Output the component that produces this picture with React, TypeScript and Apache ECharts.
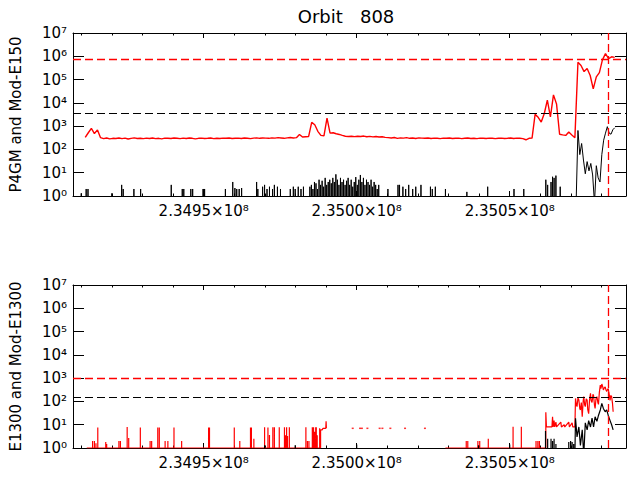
import React, { useEffect, useRef } from 'react';
import * as echarts from 'echarts';

// times are stored as seconds after T_REF
const T_REF = 234900000;
const X_MIN = 234907300;
const X_MAX = 235088000;

const MAJOR_TICKS = [234950000, 235000000, 235050000];
const MINOR_TICKS = [
  234910000, 234920000, 234930000, 234940000, 234950000, 234960000,
  234970000, 234980000, 234990000, 235000000, 235010000, 235020000,
  235030000, 235040000, 235050000, 235060000, 235070000, 235080000,
];
const Y_LABELS = ['10⁰', '10¹', '10²', '10³', '10⁴', '10⁵', '10⁶', '10⁷'];

const TITLE = 'Orbit   808';
const Y_NAMES = ['P4GM and Mod-E150', 'E1300 and Mod-E1300'];

// upper panel, red trace: uniform steps
const RED_TOP_T0 = 11300;
const RED_TOP_STEP = 1000;
const RED_TOP = [
  330, 520, 800, 480, 690, 320, 290, 310, 285, 300,
  295, 310, 290, 305, 280, 300, 315, 295, 300, 290,
  305, 295, 310, 290, 300, 285, 305, 300, 295, 310,
  300, 290, 305, 295, 310, 300, 285, 300, 305, 295,
  300, 310, 290, 300, 295, 305, 300, 310, 295, 300,
  305, 295, 310, 300, 290, 305, 315, 300, 310, 305,
  300, 315, 305, 320, 310, 300, 315, 325, 310, 320,
  440, 340, 350, 360, 1450, 1150, 600, 400, 380, 2200,
  500, 520, 470, 440, 400, 370, 360, 370, 355, 370,
  360, 375, 350, 365, 345, 360, 340, 350, 330, 320,
  310, 325, 300, 315, 305, 320, 300, 310, 295, 315,
  305, 300, 310, 295, 305, 300, 290, 305, 300, 310,
  295, 300, 305, 290, 300, 310, 295, 300, 290, 305,
  300, 295, 305, 300, 290, 300, 305, 295, 300, 310,
  295, 305, 300, 290, 260, 300, 305, 3200, 2400, 1500,
  3500, 13000, 2500, 22000, 9000, 450, 420, 400, 560, 420,
  320, 550000, 400000, 220000, 300000, 150000, 40000, 130000, 200000, 700000,
  1300000, 800000, 950000, 900000,
];

// upper panel, black trace: isolated counts [time, value]
const BLK_TOP_SPIKES_A = [
  [10000, 1.3], [11600, 2], [12200, 2], [20000, 1.3], [23200, 3], [23700, 2],
  [27200, 2], [29400, 2], [39400, 3], [43000, 2], [43500, 2], [45800, 2],
  [46400, 2], [49800, 2], [50050, 2], [50300, 2], [57100, 2], [59500, 4],
  [60200, 2.2], [60800, 2], [61600, 2], [62400, 2.2], [67300, 4], [67700, 2],
  [69260, 2.5], [69900, 3], [70700, 2], [71500, 2.5], [72500, 2], [73100, 3],
  [74100, 2.5], [75100, 2], [78300, 2], [79300, 2.5], [79900, 2], [80900, 2.5],
  [81800, 2], [82600, 2.5],
];
const BLK_TOP_DENSE_T0 = 84700;
const BLK_TOP_DENSE_STEP = 500;
const BLK_TOP_DENSE = [
  2.5, 3, 2, 4, 3.5, 2, 5, 3, 4.5, 2.5, 6, 3, 4, 5, 3.5, 6, 4, 8.5, 5, 3,
  6, 4, 5, 3, 4.5, 6, 3, 5, 2.5, 4, 6.5, 3, 5, 8, 4, 6, 3, 5, 4, 3,
  5, 2.5, 4, 3, 2, 3,
];
const BLK_TOP_SPIKES_B = [
  [110200, 2], [113500, 3], [114000, 3], [115100, 2.5], [116000, 2], [117000, 3],
  [118300, 2], [119300, 2.5], [121000, 3], [124100, 2.5], [124700, 2], [125700, 2.5],
  [129000, 2], [136000, 1.5], [142800, 2.5], [151400, 2], [154600, 2], [161800, 5],
  [162400, 3], [163500, 4], [164000, 6.7], [164500, 6], [165100, 7.5], [166500, 2.5],
];
const BLK_TOP_TAIL_T0 = 171700;
const BLK_TOP_TAIL_STEP = 600;
const BLK_TOP_TAIL = [
  0.5, 650, 60, 180, 35, 9, 30, 12, 25, 8, 0.5, 20, 6, 4, 60, 250, 500, 950, 500, 450, 700, 850,
];

// lower panel, red trace
const RED_BOT_START = 11800;
const RED_BOT_SPIKES_A = [
  [13700, 2], [14300, 2], [14800, 1.6], [15400, 7.5], [18000, 1.8], [18300, 1.5],
  [22300, 2], [22800, 2], [25000, 8], [25500, 2.7], [29300, 7.5], [32500, 2],
  [33000, 2], [35000, 7.5], [35500, 7.5], [37400, 2], [38300, 2], [40300, 7.5],
  [42800, 2], [51600, 7.5], [51900, 7.5], [60000, 7.5], [61800, 2], [65300, 7.5],
  [65600, 7.5], [66400, 2.5], [69900, 7.7], [71000, 7.5], [71500, 3.6], [72600, 7.7],
  [73100, 7.7], [74700, 7.7], [76400, 7.7], [76700, 3.5], [77100, 7.7], [77400, 3.3],
  [78000, 7.7], [83400, 7.7], [83900, 2], [84400, 2], [85500, 7.7], [85900, 7.7],
  [86200, 5], [86600, 7.7], [86800, 7.7], [87100, 3.5], [87900, 7],
];
const RED_BOT_END_A = [
  [88200, 1], [88200, 6], [88700, 6], [89000, 7], [89900, 7], [90000, 14], [90100, 7],
];
const RED_BOT_DOTS = [98700, 101100, 101700, 103500, 107500, 108400, 111000, 115800, 122300];
const RED_BOT_DOT_VALUE = 7;
const RED_BOT_START_B = 129000;
const RED_BOT_SPIKES_B = [
  [135800, 2], [136300, 2], [139600, 2], [140200, 2], [143000, 2.5], [151100, 8.2],
  [153800, 8.2], [158600, 2], [159200, 2], [159700, 2],
];
const RED_BOT_TAIL = [
  [161800, 1], [161800, 34], [162000, 8], [163800, 8], [164000, 22], [164200, 8],
  [164500, 15], [164700, 8], [165100, 13], [165300, 8], [166700, 13], [166900, 8],
  [167800, 10], [168000, 8], [169300, 13], [169500, 8], [170400, 12], [170600, 8],
  [171300, 8], [171500, 135], [171800, 70], [172000, 60], [172300, 140], [172600, 115],
  [172900, 50], [173100, 43], [173400, 90], [173700, 22], [174000, 100], [174200, 160],
  [174500, 70], [174700, 60], [175000, 130], [175300, 115], [175500, 45], [175800, 30],
  [176100, 120], [176400, 225], [176600, 110], [176900, 90], [177200, 200], [177400, 180],
  [177700, 70], [177900, 50], [178200, 130], [178500, 160], [178800, 90], [179000, 75],
  [179300, 250], [179600, 500], [179800, 350], [180100, 560], [180400, 420], [180600, 310],
  [180900, 380], [181200, 420], [181500, 300], [181700, 270], [182000, 330], [182200, 360],
  [182500, 200], [182800, 110], [183000, 180], [183300, 160], [183600, 80], [183800, 36],
];

// lower panel, black trace
const BLK_BOT_SPIKES = [
  [69900, 1.3], [79900, 1.3], [100000, 1.4], [139800, 1.3], [150000, 1.4], [161700, 5.4],
  [162400, 2.5], [163500, 2.5], [164000, 2], [164500, 2.5], [165100, 1.5], [169300, 1.8],
  [169900, 2], [170400, 1.8], [170900, 1.5],
];
const BLK_BOT_TAIL = [
  [171300, 0.5], [171500, 19], [172000, 3], [172600, 8], [173100, 1.3], [173700, 6],
  [174200, 0.5], [174700, 12], [175300, 6], [175800, 15], [176400, 8], [176900, 19],
  [177400, 8], [177900, 22], [178500, 14], [179000, 25], [179600, 43], [180100, 83],
  [180600, 50], [181200, 36], [181700, 43], [182200, 25], [182800, 15], [183300, 10],
  [183800, 6],
];

// reference levels
const TOP_RED_LEVEL = 740000;
const TOP_BLACK_LEVEL = 3550;
const BOT_RED_LEVEL = 1000;
const BOT_BLACK_LEVEL = 150;
const MARK_TIME = 182300;

const FONT = 'DejaVu Sans';
const RED = '#ff0000';
const BLACK = '#000000';

const toPoints = (pairs: number[][]) => pairs.map(([t, v]) => [T_REF + t, v]);
const spikes = (pairs: number[][], base: number) =>
  pairs.flatMap(([t, h]) => [
    [T_REF + t, base],
    [T_REF + t, h],
    [T_REF + t, base],
  ]);
const uniform = (t0: number, step: number, values: number[]) =>
  values.map((v, i) => [t0 + i * step, v]);

const App: React.FC = () => {
  const chartRef = useRef<HTMLDivElement>(null);

  useEffect(() => {
    if (!chartRef.current) return;
    const chart = echarts.init(chartRef.current, null, { renderer: 'svg' });

    const redTop = toPoints(uniform(RED_TOP_T0, RED_TOP_STEP, RED_TOP));
    const blackTop = [
      ...spikes(BLK_TOP_SPIKES_A, 0.5),
      ...spikes(uniform(BLK_TOP_DENSE_T0, BLK_TOP_DENSE_STEP, BLK_TOP_DENSE), 0.5),
      ...spikes(BLK_TOP_SPIKES_B, 0.5),
      ...toPoints(uniform(BLK_TOP_TAIL_T0, BLK_TOP_TAIL_STEP, BLK_TOP_TAIL)),
    ];
    const redBotA = [
      [T_REF + RED_BOT_START, 1],
      ...spikes(RED_BOT_SPIKES_A, 1),
      ...toPoints(RED_BOT_END_A),
    ];
    const redBotB = [
      [T_REF + RED_BOT_START_B, 1],
      ...spikes(RED_BOT_SPIKES_B, 1),
      ...toPoints(RED_BOT_TAIL),
    ];
    const redBotDots = RED_BOT_DOTS.map((t) => [T_REF + t, RED_BOT_DOT_VALUE]);
    const blackBot = [...spikes(BLK_BOT_SPIKES, 0.5), ...toPoints(BLK_BOT_TAIL)];

    const xAxes = (gridIndex: number) => {
      const base = {
        type: 'value',
        gridIndex,
        min: X_MIN,
        max: X_MAX,
        splitLine: { show: false },
      };
      const major = (position: string, labels: boolean) => ({
        ...base,
        position,
        axisLine: { show: true, onZero: false, lineStyle: { color: BLACK, width: 1 } },
        axisTick: {
          show: true,
          inside: true,
          length: 5,
          customValues: MAJOR_TICKS,
          lineStyle: { color: BLACK },
        },
        axisLabel: {
          show: labels,
          customValues: MAJOR_TICKS,
          margin: 7,
          color: BLACK,
          fontSize: 15,
          fontFamily: FONT,
          formatter: (v: number) => (v / 1e8).toFixed(4) + '×10⁸',
        },
      });
      const minor = (position: string) => ({
        ...base,
        position,
        axisLine: { show: false },
        axisTick: {
          show: true,
          inside: true,
          length: 2.5,
          customValues: MINOR_TICKS,
          lineStyle: { color: BLACK },
        },
        axisLabel: { show: false },
      });
      return [major('bottom', true), minor('bottom'), major('top', false), minor('top')];
    };

    const yAxes = (gridIndex: number, name: string) => {
      const base = {
        type: 'log',
        logBase: 10,
        gridIndex,
        min: 1,
        max: 1e7,
        splitNumber: 7,
        splitLine: { show: false },
        minorTick: { show: false },
        axisLine: { show: true, onZero: false, lineStyle: { color: BLACK, width: 1 } },
        axisTick: { show: true, inside: true, length: 11, lineStyle: { color: BLACK } },
      };
      return [
        {
          ...base,
          position: 'left',
          name,
          nameLocation: 'middle',
          nameGap: 50,
          nameTextStyle: { color: BLACK, fontSize: 15, fontFamily: FONT },
          axisLabel: {
            margin: 6,
            color: BLACK,
            fontSize: 15,
            fontFamily: FONT,
            formatter: (v: number) => Y_LABELS[Math.round(Math.log10(v))] ?? '',
          },
        },
        { ...base, position: 'right', axisLabel: { show: false } },
      ];
    };

    const line = (data: any[], color: string, x: number, y: number, width = 1, extra: any = {}) => ({
      type: 'line',
      data,
      xAxisIndex: x,
      yAxisIndex: y,
      showSymbol: false,
      symbol: 'none',
      silent: true,
      clip: true,
      lineStyle: { color, width },
      itemStyle: { color },
      ...extra,
    });

    const marks = (color: string, items: any[], width = 1) => ({
      markLine: {
        silent: true,
        symbol: 'none',
        label: { show: false },
        lineStyle: { color, type: [8, 4], width },
        data: items,
      },
    });

    chart.setOption({
      animation: false,
      backgroundColor: '#ffffff',
      title: {
        text: TITLE,
        left: 346,
        top: 7,
        padding: 0,
        textAlign: 'center',
        textStyle: { color: BLACK, fontSize: 18, fontWeight: 'normal', fontFamily: FONT },
      },
      grid: [
        { left: 66, top: 33, width: 560, height: 163, containLabel: false },
        { left: 66, top: 285, width: 560, height: 163, containLabel: false },
      ],
      xAxis: [...xAxes(0), ...xAxes(1)],
      yAxis: [...yAxes(0, Y_NAMES[0]), ...yAxes(1, Y_NAMES[1])],
      series: [
        line(blackTop, BLACK, 0, 0, 1, marks(BLACK, [{ yAxis: TOP_BLACK_LEVEL }])),
        line(redTop, RED, 0, 0, 1.4,
          marks(RED, [{ yAxis: TOP_RED_LEVEL }, { xAxis: T_REF + MARK_TIME }], 1.3)),
        line(redBotA, RED, 4, 2, 1.2),
        line(redBotB, RED, 4, 2, 1.2,
          marks(RED, [{ yAxis: BOT_RED_LEVEL }, { xAxis: T_REF + MARK_TIME }], 1.3)),
        {
          type: 'scatter',
          data: redBotDots,
          xAxisIndex: 4,
          yAxisIndex: 2,
          symbol: 'rect',
          symbolSize: [2, 1.5],
          silent: true,
          itemStyle: { color: RED },
        },
        line(blackBot, BLACK, 4, 2, 1.2, marks(BLACK, [{ yAxis: BOT_BLACK_LEVEL }])),
      ],
    });

    return () => {
      chart.dispose();
    };
  }, []);

  return (
    <div
      ref={chartRef}
      style={{ position: 'fixed', left: 0, top: 0, width: '637px', height: '480px', background: '#fff' }}
    />
  );
};

export default App;
